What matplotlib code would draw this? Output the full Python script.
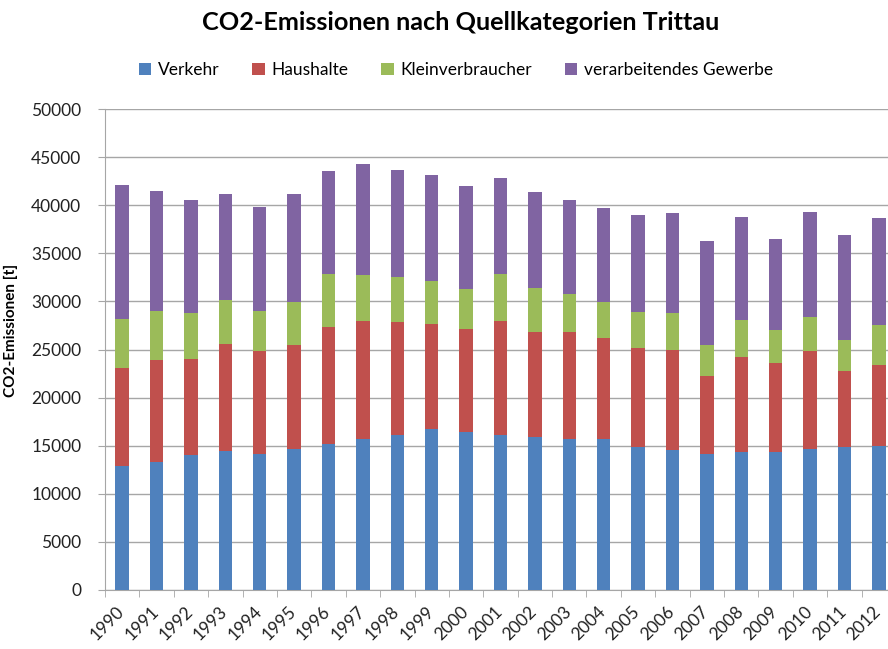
import matplotlib
matplotlib.use("Agg")
import matplotlib.pyplot as plt
from matplotlib.patches import Patch
import numpy as np

years = [str(y) for y in range(1990, 2013)]
verkehr = [12850, 13300, 14000, 14500, 14150, 14700, 15200, 15700, 16100, 16750, 16400, 16100,
           15950, 15650, 15650, 14850, 14600, 14150, 14350, 14350, 14700, 14850, 14950]
haushalte = [10250, 10600, 10050, 11050, 10650, 10750, 12150, 12250, 11750, 10900, 10750, 11900,
             10900, 11200, 10500, 10300, 10350, 8100, 9900, 9250, 10100, 7950, 8400]
klein = [5100, 5100, 4700, 4550, 4200, 4450, 5450, 4750, 4700, 4450, 4100, 4800,
         4550, 3900, 3800, 3700, 3800, 3250, 3850, 3450, 3550, 3200, 4150]
gewerbe = [13850, 12500, 11800, 11050, 10850, 11250, 10750, 11550, 11100, 11050, 10700, 10050,
           9950, 9800, 9800, 10100, 10400, 10800, 10650, 9450, 10900, 10900, 11150]

series = [("Verkehr", verkehr, "#4F81BD"),
          ("Haushalte", haushalte, "#C0504D"),
          ("Kleinverbraucher", klein, "#9BBB59"),
          ("verarbeitendes Gewerbe", gewerbe, "#8064A2")]

plt.rcParams['font.family'] = ['Lato', 'DejaVu Sans']

fig = plt.figure(figsize=(8.88, 6.49), dpi=100)
ax = fig.add_axes([105/888, 59/649, 791/888, 481/649])

x = np.arange(len(years))
bottom = np.zeros(len(years))
for name, vals, col in series:
    ax.bar(x, vals, width=0.39, bottom=bottom, color=col, label=name, zorder=3)
    bottom += np.array(vals)

ax.set_xlim(-0.5, len(years) - 0.5)
ax.set_ylim(0, 50000)
ax.set_yticks(np.arange(0, 50001, 5000))
ax.tick_params(axis='y', length=5, color='#A6A6A6', labelsize=12.5, pad=12, labelcolor='#222222')
ax.yaxis.grid(True, color='#A6A6A6', linewidth=1, zorder=0)
ax.set_axisbelow(True)

ax.set_xticks(x)
ax.set_xticklabels(years, rotation=45, ha='right', va='baseline', rotation_mode='anchor',
                   fontsize=12.5, color='#222222')
ax.set_xticks(np.arange(-0.5, len(years), 1), minor=True)
ax.tick_params(axis='x', which='major', length=0, pad=16.5)
ax.tick_params(axis='x', which='minor', length=5, color='#A6A6A6', direction='out')
for lab in ax.get_xticklabels():
    lab.set_transform(lab.get_transform() + matplotlib.transforms.ScaledTranslation(3/100, 0, fig.dpi_scale_trans))

for s in ['top', 'right']:
    ax.spines[s].set_visible(False)
for s in ['left', 'bottom']:
    ax.spines[s].set_color('#A6A6A6')

ax.set_ylabel("CO2-Emissionen [t]", fontsize=11, fontweight='bold')
ax.yaxis.set_label_coords(-0.11, 0.54)

fig.text(461/888, 1 - 23/649, "CO2-Emissionen nach Quellkategorien Trittau",
         ha='center', va='center', fontsize=18.2, fontweight='bold')

handles = [Patch(facecolor=c, label=n) for n, _, c in series]
fig.legend(handles=handles, loc='center', bbox_to_anchor=(456/888, 1 - 70/649), ncol=4,
           frameon=False, fontsize=12.5, handlelength=0.7, handleheight=0.7,
           handletextpad=0.4, columnspacing=1.9)

fig.savefig("out.png", dpi=100)
